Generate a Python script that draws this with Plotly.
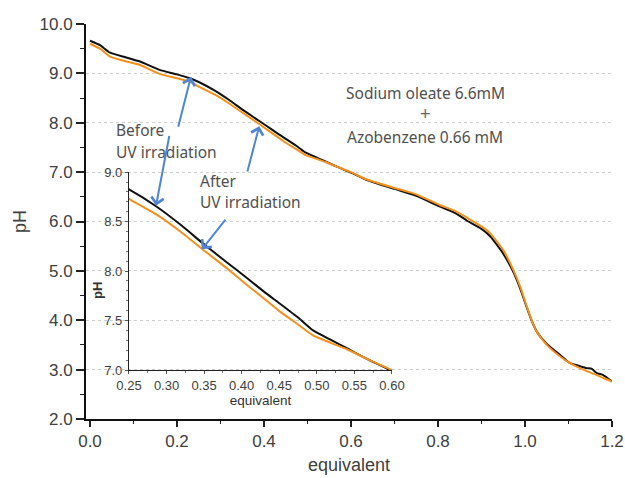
import plotly.graph_objects as go

# ---------------- data ----------------
equiv = [0.0, 0.023, 0.046, 0.08, 0.115, 0.16, 0.2, 0.23, 0.25, 0.287, 0.32, 0.353,
         0.38, 0.407, 0.43, 0.451, 0.475, 0.495, 0.52, 0.54, 0.57, 0.6, 0.636, 0.7,
         0.75, 0.805, 0.84, 0.866, 0.9, 0.92, 0.95, 0.973, 0.989, 1.004, 1.015, 1.027,
         1.05, 1.08, 1.103, 1.119, 1.142, 1.153, 1.165, 1.18, 1.2]
ph_before = [9.66, 9.57, 9.42, 9.33, 9.24, 9.07, 8.98, 8.90, 8.825, 8.65, 8.46, 8.25,
             8.09, 7.93, 7.79, 7.67, 7.53, 7.40, 7.30, 7.22, 7.10, 6.99, 6.84, 6.66,
             6.52, 6.30, 6.17, 6.02, 5.85, 5.70, 5.35, 4.98, 4.64, 4.26, 4.00, 3.77,
             3.52, 3.30, 3.13, 3.09, 3.03, 3.02, 2.93, 2.89, 2.76]
ph_after = [9.60, 9.50, 9.34, 9.25, 9.17, 8.99, 8.90, 8.83, 8.73, 8.57, 8.39, 8.19,
            8.03, 7.86, 7.72, 7.59, 7.46, 7.35, 7.27, 7.21, 7.10, 7.00, 6.85, 6.68,
            6.55, 6.33, 6.21, 6.08, 5.90, 5.76, 5.42, 5.02, 4.68, 4.28, 4.01, 3.77,
            3.50, 3.27, 3.13, 3.06, 2.97, 2.93, 2.89, 2.83, 2.76]

main_x_ticks = [0.0, 0.2, 0.4, 0.6, 0.8, 1.0, 1.2]
main_y_ticks = [2.0, 3.0, 4.0, 5.0, 6.0, 7.0, 8.0, 9.0, 10.0]
inset_x_ticks = [0.25, 0.30, 0.35, 0.40, 0.45, 0.50, 0.55, 0.60]
inset_y_ticks = [7.0, 7.5, 8.0, 8.5, 9.0]

BLACK = "#111111"
ORANGE = "#f5901c"
BLUE = "#4f85d8"
TXT = "#404040"
FONT = "Liberation Sans, Arial, sans-serif"
LFONT = "Noto Sans, Open Sans, sans-serif"

fig = go.Figure()
for xa, ya in (("x", "y"), ("x2", "y2")):
    fig.add_trace(go.Scatter(x=equiv, y=ph_before, mode="lines", xaxis=xa, yaxis=ya,
                             line=dict(color=BLACK, width=2, shape="spline", smoothing=0.5),
                             hoverinfo="skip"))
    fig.add_trace(go.Scatter(x=equiv, y=ph_after, mode="lines", xaxis=xa, yaxis=ya,
                             line=dict(color=ORANGE, width=2, shape="spline", smoothing=0.5),
                             hoverinfo="skip"))

fig.update_layout(
    width=625, height=478,
    margin=dict(l=86, r=13, t=24, b=59, autoexpand=False),
    paper_bgcolor="white", plot_bgcolor="rgba(0,0,0,0)",
    showlegend=False,
    font=dict(family=FONT, color=TXT),
    xaxis=dict(domain=[0, 1], anchor="y", range=[-0.0092, 1.2], automargin=False,
               tickvals=main_x_ticks, ticktext=[f"{v:.1f}" for v in main_x_ticks],
               ticks="outside", ticklen=6, tickwidth=1.5, tickcolor="#222",
               minor=dict(dtick=0.1, tick0=0, ticks="outside", ticklen=3, tickcolor="#222", tickwidth=1.2),
               showline=True, linecolor="#111", linewidth=2, showgrid=False, zeroline=False,
               tickfont=dict(size=17, color=TXT),
               title=dict(text="equivalent", font=dict(size=18, color=TXT), standoff=8)),
    yaxis=dict(domain=[0, 1], anchor="x", range=[2, 10], automargin=False,
               tickvals=main_y_ticks, ticktext=[f"{v:.1f}" for v in main_y_ticks],
               ticks="outside", ticklen=8, tickwidth=1.5, tickcolor="#222",
               minor=dict(dtick=0.5, tick0=0, ticks="outside", ticklen=4, tickcolor="#222", tickwidth=1.2),
               showline=True, linecolor="#111", linewidth=2,
               showgrid=True, gridcolor="#cfcfcf", griddash="dot", gridwidth=1, zeroline=False,
               tickfont=dict(size=17, color=TXT),
               title=dict(text="pH", font=dict(size=18, color=TXT), standoff=8)),
    xaxis2=dict(domain=[0.0817, 0.5817], anchor="y2", range=[0.25, 0.60], automargin=False,
                tickvals=inset_x_ticks, ticktext=[f"{v:.2f}" for v in inset_x_ticks],
                ticks="outside", ticklen=3, tickwidth=1, tickcolor="#555",
                minor=dict(dtick=0.025, tick0=0.25, ticks="outside", ticklen=2, tickcolor="#777"),
                showline=True, linecolor="#222", linewidth=1, showgrid=False, zeroline=False,
                tickfont=dict(size=13, color=TXT),
                title=dict(text="equivalent", font=dict(size=13.5, color="#333"), standoff=2)),
    yaxis2=dict(domain=[0.124, 0.625], anchor="x2", range=[7, 9], automargin=False,
                tickvals=inset_y_ticks, ticktext=[f"{v:.1f}" for v in inset_y_ticks],
                ticks="outside", ticklen=3, tickwidth=1, tickcolor="#555",
                minor=dict(dtick=0.1, tick0=7, ticks="outside", ticklen=2, tickcolor="#777"),
                showline=True, linecolor="#222", linewidth=1, showgrid=False, zeroline=False,
                tickfont=dict(size=13, color=TXT)),
)

# inset y title
fig.add_annotation(text="<b>pH</b>", xref="paper", yref="paper", x=0.0228, y=0.3266,
                   xanchor="center", yanchor="middle",
                   textangle=-90, showarrow=False, font=dict(size=13, color="#333", family=FONT))

# text labels
labels = [
    ("Before", 0.0532, 0.7316, "left"),
    ("UV irradiation", 0.0532, 0.676, "left"),
    ("After", 0.2129, 0.6025, "left"),
    ("UV irradiation", 0.2129, 0.549, "left"),
    ("Sodium oleate 6.6mM", 0.6445, 0.8253, "center"),
    ("Azobenzene 0.66 mM", 0.6445, 0.7139, "center"),
]
for t, x, y, anc in labels:
    fig.add_annotation(text=t, xref="paper", yref="paper", x=x, y=y, xanchor=anc,
                       yanchor="middle", showarrow=False,
                       font=dict(size=15.5, color="#505050", family=LFONT))
fig.add_annotation(text="+", xref="paper", yref="paper", x=0.6445, y=0.7722, xanchor="center",
                   yanchor="middle", showarrow=False, borderpad=0,
                   font=dict(size=18, color="#666666", family="Liberation Sans"))

# arrows
arrows = [
    ("x", "y", 0.232, 8.93, 0.202, 7.89),
    ("x2", "y2", 0.286, 8.66, 0.304, 9.38),
    ("x", "y", 0.389, 7.93, 0.361, 6.98),
    ("x2", "y2", 0.347, 8.22, 0.380, 8.535),
]
for xr, yr, x, y, ax, ay in arrows:
    fig.add_annotation(x=x, y=y, ax=ax, ay=ay, xref=xr, yref=yr, axref=xr, ayref=yr,
                       text="", showarrow=True, arrowhead=4, arrowsize=1.2,
                       arrowwidth=2, arrowcolor=BLUE, standoff=0)

fig.write_html("out.html", config={"displayModeBar": False},
               post_script="document.body.style.margin='0px';document.body.style.overflow='hidden';")
